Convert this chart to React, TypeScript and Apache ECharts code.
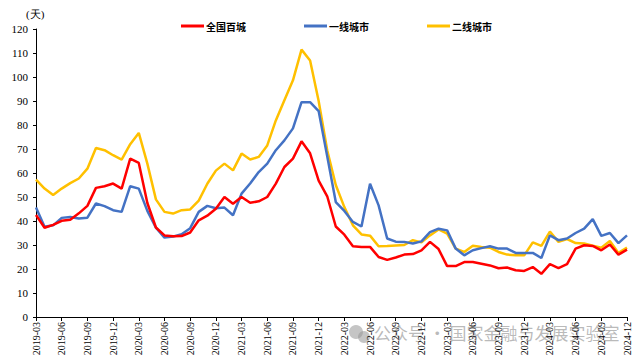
import React, { useEffect, useRef } from "react";
import * as echarts from "echarts";

const months: string[] = [
  "2019-03", "2019-04", "2019-05", "2019-06", "2019-07", "2019-08", "2019-09", "2019-10", "2019-11", "2019-12",
  "2020-01", "2020-02", "2020-03", "2020-04", "2020-05", "2020-06", "2020-07", "2020-08", "2020-09", "2020-10", "2020-11", "2020-12",
  "2021-01", "2021-02", "2021-03", "2021-04", "2021-05", "2021-06", "2021-07", "2021-08", "2021-09", "2021-10", "2021-11", "2021-12",
  "2022-01", "2022-02", "2022-03", "2022-04", "2022-05", "2022-06", "2022-07", "2022-08", "2022-09", "2022-10", "2022-11", "2022-12",
  "2023-01", "2023-02", "2023-03", "2023-04", "2023-05", "2023-06", "2023-07", "2023-08", "2023-09", "2023-10", "2023-11", "2023-12",
  "2024-01", "2024-02", "2024-03", "2024-04", "2024-05", "2024-06", "2024-07", "2024-08", "2024-09", "2024-10", "2024-11", "2024-12",
];

const seriesNames = ["全国百城", "一线城市", "二线城市"];

const nationalHundred: number[] = [
  42.5, 37.2, 38.4, 40.1, 40.5, 43.2, 46.3, 53.8, 54.5, 55.6,
  53.5, 66.0, 64.2, 47.5, 37.3, 34.0, 33.6, 33.7, 35.2, 40.3, 42.2, 45.1,
  50.0, 47.2, 50.0, 47.6, 48.2, 50.0, 55.6, 62.5, 66.0, 73.2, 68.2, 56.8,
  50.3, 37.7, 34.3, 29.5, 29.2, 29.2, 25.0, 23.8, 24.8, 26.0, 26.2, 27.8,
  31.3, 28.3, 21.2, 21.2, 22.9, 22.9, 22.2, 21.5, 20.3, 20.6, 19.5, 19.2,
  20.8, 18.0, 22.0, 20.4, 22.0, 28.5, 29.9, 29.6, 27.8, 30.2, 26.0, 28.1,
];

const firstTier: number[] = [
  45.6, 37.6, 38.2, 41.3, 41.7, 41.0, 41.4, 47.3, 46.2, 44.5,
  43.8, 54.5, 53.5, 44.2, 37.2, 33.1, 33.5, 34.5, 37.0, 43.8, 46.3, 45.3,
  45.6, 42.4, 51.4, 55.6, 60.4, 63.9, 69.5, 73.6, 78.6, 89.5, 89.5, 85.8,
  67.0, 47.9, 44.2, 39.6, 37.7, 55.5, 46.5, 32.7, 31.4, 31.3, 30.6, 31.5,
  35.4, 36.8, 36.1, 28.5, 25.7, 27.8, 28.7, 29.5, 28.5, 28.5, 26.7, 26.7,
  26.7, 24.6, 34.0, 32.0, 32.7, 35.0, 36.8, 40.8, 33.8, 35.0, 30.8, 34.0,
];

const secondTier: number[] = [
  57.2, 53.5, 50.8, 53.5, 55.8, 57.7, 61.8, 70.4, 69.5, 67.4,
  65.6, 72.0, 76.7, 63.9, 49.0, 43.8, 43.1, 44.5, 44.8, 48.5, 55.5, 61.0,
  63.9, 61.1, 68.1, 65.6, 66.7, 71.5, 81.9, 90.3, 98.6, 111.4, 106.9, 90.0,
  69.5, 55.0, 45.8, 38.2, 34.4, 33.9, 29.5, 29.6, 29.8, 30.0, 32.0, 31.1,
  34.0, 36.5, 34.7, 28.5, 27.1, 29.7, 29.2, 28.9, 27.1, 26.0, 25.7, 25.7,
  31.1, 29.6, 35.6, 31.3, 32.5, 30.8, 30.6, 29.7, 28.9, 31.7, 26.7, 28.9,
];

const colors = ["#FF0000", "#4472C4", "#FFC000"];

export default function App() {
  const ref = useRef<HTMLDivElement>(null);

  useEffect(() => {
    document.body.style.margin = "0";
    if (!ref.current) return;
    const chart = echarts.init(ref.current, undefined, { renderer: "svg" });
    const serif = "'Liberation Serif', 'Times New Roman', serif";
    const dataSets = [nationalHundred, firstTier, secondTier];
    chart.setOption({
      animation: false,
      backgroundColor: "#ffffff",
      color: colors,
      grid: { left: 36, right: 13, top: 29, bottom: 47, containLabel: false },
      legend: {
        left: 176,
        top: 16,
        itemGap: 58,
        itemWidth: 23,
        itemHeight: 3,
        icon: "rect",
        textStyle: {
          fontFamily: "'Noto Sans CJK SC', sans-serif",
          fontWeight: "bold",
          fontSize: 10,
          color: "#000",
          padding: [0, 0, 0, -3],
        },
        data: seriesNames,
      },
      xAxis: {
        type: "category",
        data: months,
        boundaryGap: false,
        axisLine: { lineStyle: { color: "#000", width: 1 } },
        axisTick: { show: true, interval: 2, length: 4, lineStyle: { color: "#000" } },
        axisLabel: {
          interval: 2,
          rotate: 90,
          fontFamily: serif,
          fontSize: 10,
          color: "#000",
          margin: 5,
        },
        splitLine: { show: false },
      },
      yAxis: {
        type: "value",
        min: 0,
        max: 120,
        interval: 10,
        axisLine: { show: true, lineStyle: { color: "#000", width: 1 } },
        axisTick: { show: true, length: 3, lineStyle: { color: "#000" } },
        axisLabel: { fontFamily: serif, fontSize: 11, color: "#000", margin: 8 },
        splitLine: { show: false },
      },
      graphic: [
        {
          type: "text",
          left: 26,
          top: 8,
          style: { text: "(天)", font: "11px 'Liberation Serif', serif", fill: "#000" },
        },
        {
          type: "circle",
          shape: { cx: 356, cy: 332, r: 7 },
          style: { fill: "rgba(150,150,150,0.55)" },
          silent: true,
        },
        {
          type: "circle",
          shape: { cx: 364, cy: 337, r: 6 },
          style: { fill: "rgba(150,150,150,0.55)" },
          silent: true,
        },
        {
          type: "text",
          left: 374,
          top: 324,
          silent: true,
          style: {
            text: "公众号 · 国家金融与发展实验室",
            font: "17px 'Noto Sans CJK SC', sans-serif",
            fill: "rgba(140,140,140,0.6)",
          },
        },
      ],
      series: seriesNames.map((name, k) => ({
        name,
        type: "line",
        data: dataSets[k],
        symbol: "none",
        lineStyle: { width: 2.5, color: colors[k] },
        itemStyle: { color: colors[k] },
        z: 3 - k,
      })),
    });
    return () => chart.dispose();
  }, []);

  return <div ref={ref} style={{ width: 640, height: 364 }} />;
}
